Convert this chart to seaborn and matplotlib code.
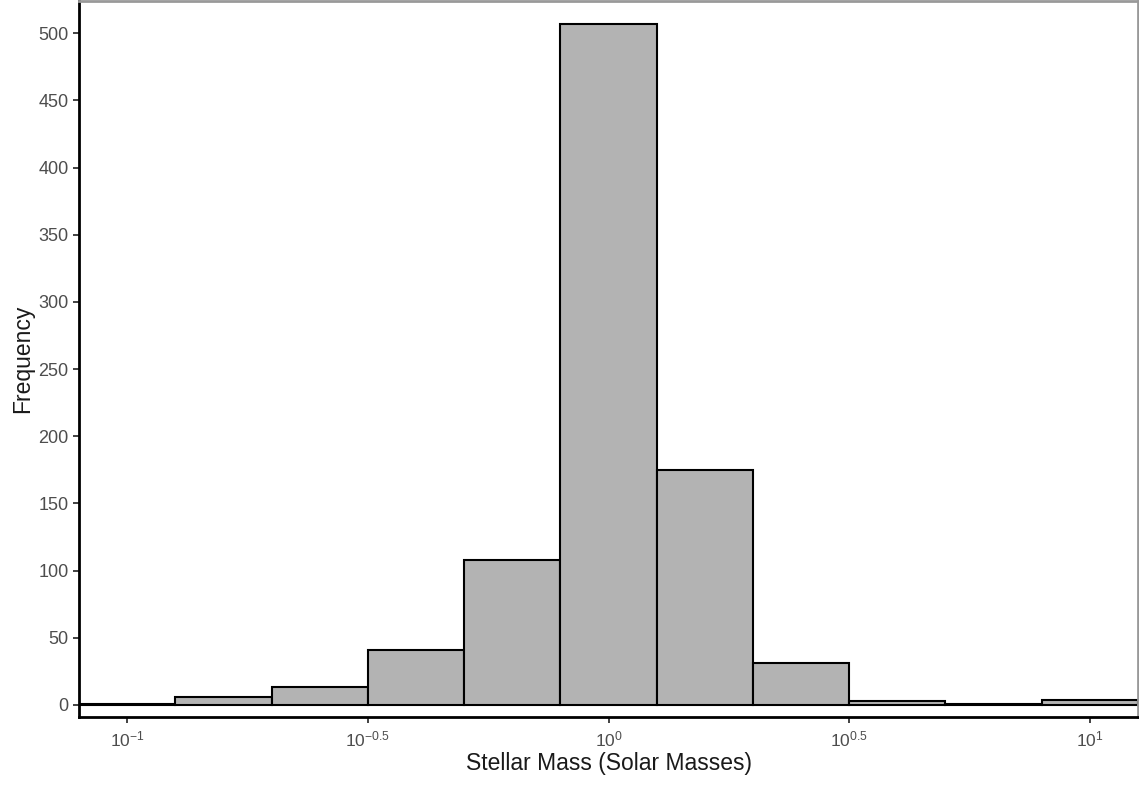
import numpy as np
import pandas as pd
import matplotlib
matplotlib.use('Agg')
import matplotlib.pyplot as plt
import seaborn as sns

# Bins in log10 space (solar masses) and counts
bin_edges = [-1.1, -0.9, -0.7, -0.5, -0.3, -0.1, 0.1, 0.3, 0.5, 0.7, 0.9, 1.1]
bin_centers = [-1.0, -0.8, -0.6, -0.4, -0.2, 0.0, 0.2, 0.4, 0.6, 0.8, 1.0]
counts = [1, 6, 13, 41, 108, 507, 175, 31, 3, 1, 4]

tick_pos = [-1, -0.5, 0, 0.5, 1]
tick_labels = [r'$10^{-1}$', r'$10^{-0.5}$', r'$10^{0}$', r'$10^{0.5}$', r'$10^{1}$']
y_ticks = [0, 50, 100, 150, 200, 250, 300, 350, 400, 450, 500]

df = pd.DataFrame({'mass': 10 ** np.array(bin_centers), 'n': counts})

sns.set_style('white')
plt.rcParams['font.family'] = ['Liberation Sans', 'DejaVu Sans']
plt.rcParams['mathtext.fontset'] = 'custom'
plt.rcParams['mathtext.rm'] = 'Liberation Sans'
plt.rcParams['mathtext.it'] = 'Liberation Sans'

fig = plt.figure(figsize=(11.39, 7.85), dpi=100)
ax = fig.add_axes([79 / 1139, 68 / 785, 1059 / 1139, 716 / 785])

sns.histplot(data=df, x='mass', weights='n', bins=bin_edges, log_scale=True,
             color='#b3b3b3', edgecolor='black', linewidth=1.5, alpha=1, ax=ax)

ax.set_xlim(10 ** -1.1, 10 ** 1.1)
ax.set_ylim(-9, 524)
ax.set_xticks([10 ** t for t in tick_pos])
ax.set_xticklabels(tick_labels)
ax.minorticks_off()
ax.set_yticks(y_ticks)

ax.set_xlabel('Stellar Mass (Solar Masses)', fontsize=16.5, color='#1a1a1a', labelpad=2)
ax.set_ylabel('Frequency', fontsize=16.5, color='#1a1a1a', labelpad=3)
ax.tick_params(axis='both', labelsize=13, colors='#4d4d4d', length=4, width=1.3,
               direction='out', bottom=True, left=True)
ax.tick_params(axis='x', labelsize=12.5, pad=5)
ax.tick_params(color='#333333')

for side in ['left', 'bottom']:
    ax.spines[side].set_color('black')
    ax.spines[side].set_linewidth(2)
for side in ['top', 'right']:
    ax.spines[side].set_color('#999999')
    ax.spines[side].set_linewidth(2)

fig.savefig('out.png', dpi=100)
